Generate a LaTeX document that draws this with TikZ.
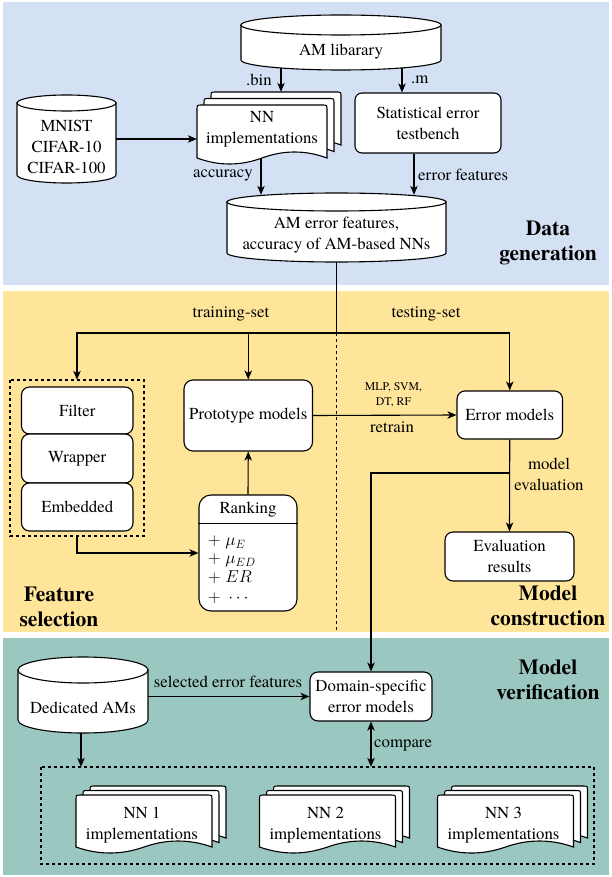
\documentclass[tikz,border=0pt]{standalone}
\usepackage{fontspec}
\IfFontExistsTF{texgyretermes-regular.otf}{%
 \setmainfont{texgyretermes}[Extension=.otf, UprightFont=*-regular, BoldFont=*-bold, ItalicFont=*-italic, BoldItalicFont=*-bolditalic]}{%
 \setmainfont{Liberation Serif}}
\usetikzlibrary{arrows.meta,calc}
\definecolor{bgblue}{HTML}{D4E1F5}
\definecolor{bgyellow}{HTML}{FFE599}
\definecolor{bgteal}{HTML}{9AC7BF}
\newcommand\bodyfont{\fontsize{16.8}{21}\selectfont}
\newcommand\smallfont{\fontsize{11.8}{15}\selectfont}
\newcommand\titlefont{\fontsize{21.5}{25}\selectfont\bfseries}
\tikzset{
 shapeline/.style={draw=black, fill=white, line width=1.1pt},
 mybox/.style={shapeline, rounded corners=7pt, align=center, font=\bodyfont, inner sep=0pt},
 txt/.style={align=center, font=\bodyfont, inner sep=1pt},
 lbl/.style={font=\bodyfont, inner sep=1pt},
 rlbl/.style={font=\bodyfont, inner sep=0pt},
 slbl/.style={font=\smallfont, align=center, inner sep=1pt},
 ttl/.style={font=\titlefont, align=center, inner sep=0pt},
 conn/.style={line width=1.1pt},
 arr/.style={conn, -{Stealth[length=9pt,width=7.5pt,inset=2.5pt]}},
 darr/.style={conn, {Stealth[length=9pt,width=7.5pt,inset=2.5pt]}-{Stealth[length=9pt,width=7.5pt,inset=2.5pt]}},
 dashedbox/.style={draw=black, line width=1.1pt, dash pattern=on 3pt off 3pt},
 dashedline/.style={line width=1.1pt, dash pattern=on 3pt off 3pt},
 ghost/.style={draw=none, inner sep=0pt},
}
% cylinder: x0 y0 x1 y1 ry
\newcommand\mycyl[5]{%
 \filldraw[shapeline] ({#1},{#2+#5}) -- ({#1},{#4-#5})
   .. controls ({#1},{#4-#5+0.552*#5}) and ({(#1+#3)/2-0.552*(#3-#1)/2},{#4}) .. ({(#1+#3)/2},{#4})
   .. controls ({(#1+#3)/2+0.552*(#3-#1)/2},{#4}) and ({#3},{#4-#5+0.552*#5}) .. ({#3},{#4-#5})
   -- ({#3},{#2+#5}) -- cycle;
 \filldraw[shapeline] ({(#1+#3)/2},{#2+#5}) ellipse [x radius={(#3-#1)/2}, y radius={#5}];
}
% one document page: x y w e(end height of sides)
\newcommand\mydocone[4]{%
 \filldraw[shapeline] ({#1},{#4}) -- ({#1},{#2+5}) .. controls ({#1},{#2}) .. ({#1+5},{#2})
  -- ({#1+#3-5},{#2}) .. controls ({#1+#3},{#2}) .. ({#1+#3},{#2+5}) -- ({#1+#3},{#4})
  .. controls ({#1+5*#3/6},{#4-8}) and ({#1+4*#3/6},{#4-8}) .. ({#1+#3/2},{#4})
  .. controls ({#1+2*#3/6},{#4+8}) and ({#1+#3/6},{#4+8}) .. ({#1},{#4}) -- cycle;}
% stack: x y w e dx dy
\newcommand\mydocstack[6]{%
 \mydocone{#1+2*#5}{#2-2*#6}{#3}{#4-2*#6}
 \mydocone{#1+#5}{#2-#6}{#3}{#4-#6}
 \mydocone{#1}{#2}{#3}{#4}}
\begin{document}
\begin{tikzpicture}[x=1pt,y=-1pt]
\useasboundingbox (0,0) rectangle (612,877);
\fill[white] (0,0) rectangle (612,877);
% bands
\fill[bgblue] (3,2) rectangle (609,285);
\fill[bgyellow] (3,291) rectangle (609,632);
\fill[bgteal] (3,638) rectangle (609,875);

% ---------------- Data generation ----------------
\mycyl{241}{15}{441}{70}{10}
\node[ghost, minimum width=200pt, minimum height=55pt] (amlib) at (341,42.5) {};
\node[txt] (amlibt) at (341,52) {AM libarary};

\mycyl{17}{95}{116}{183}{8}
\node[ghost, minimum width=99pt, minimum height=88pt] (mnist) at (66.5,139) {};
\node[txt] (mnistt) at (66.5,147) {MNIST\\CIFAR-10\\CIFAR-100};

\mydocstack{197}{105}{130}{158}{7}{6.5}
\node[ghost, minimum width=144pt, minimum height=72pt] (nn) at (269,128) {};
\node[txt] (nnt) at (262,129.5) {NN\\implementations};
\coordinate (nnbot) at (261,158);

\node[mybox, minimum width=146pt, minimum height=60pt] (stat) at (428,123) {Statistical error\\testbench};

\mycyl{227}{193}{446}{262}{9}
\node[ghost, minimum width=219pt, minimum height=69pt] (amerr) at (336.5,227.5) {};
\node[txt] (amerrt) at (336.5,235) {AM error features,\\accuracy of AM-based NNs};

\coordinate (binx) at (281,0);
\coordinate (mx) at (402,0);
\coordinate (efx) at (414,0);
\draw[arr] ($(amlib.south -| binx)+(0,-2)$) -- (nn.north -| binx);
\node[lbl, anchor=east] (lbin) at (273,80) {.bin};
\draw[arr] ($(amlib.south -| mx)+(0,-2)$) -- (stat.north -| mx);
\node[lbl, anchor=west] (lm) at (410,80) {.m};
\draw[arr] (mnist.east) -- (mnist.east -| nn.west);
\draw[arr] (nnbot) -- ($(amerr.north -| nnbot)+(0,2)$);
\node[lbl, anchor=east] (lacc) at (254,175) {accuracy};
\draw[arr] (stat.south -| efx) -- ($(amerr.north -| efx)+(0,2)$);
\node[lbl, anchor=west] (lef) at (417,175) {error features};
\node[ttl] (tdata) at (548,242.5) {Data\\generation};

% ---------------- Feature selection / model construction ----------------
\coordinate (split) at (336.5,333);
\coordinate (dashend) at (336.5,632);
\draw[dashedline] (split) -- (dashend);

\draw[dashedbox] (10,380) rectangle (144,536);
\node[ghost, minimum width=134pt, minimum height=156pt] (fsbox) at (77,458) {};
\node[mybox, rounded corners=8pt, minimum width=111.5pt, minimum height=47pt] (filter) at (77.25,410.5) {Filter};
\node[mybox, rounded corners=8pt, minimum width=111.5pt, minimum height=49pt] (wrapper) at (77.25,458.5) {Wrapper};
\node[mybox, rounded corners=8pt, minimum width=111.5pt, minimum height=48pt] (embedded) at (77.25,507) {Embedded};

\node[mybox, rounded corners=9pt, minimum width=128.5pt, minimum height=71pt] (proto) at (248.25,415.5) {Prototype models};

\node[mybox, rounded corners=12pt, minimum width=98pt, minimum height=116pt] (rank) at (248,553) {};
\coordinate (rankhdr) at (0,523.5);
\draw[conn] (rank.west |- rankhdr) -- (rank.east |- rankhdr);
\node[txt] (rankt) at (248,510) {Ranking};
\node[rlbl, anchor=west] (r1) at (208,542.5) {$+\;\mu_E$};
\node[rlbl, anchor=west] (r2) at (208,560.5) {$+\;\mu_{ED}$};
\node[rlbl, anchor=west] (r3) at (208,577) {$+\;ER$};
\node[rlbl, anchor=west] (r4) at (208,598.5) {$+\;\cdots$};

\node[mybox, rounded corners=8pt, minimum width=105.5pt, minimum height=48pt] (errm) at (509.75,415) {Error models};
\node[mybox, rounded corners=8pt, minimum width=129pt, minimum height=49pt] (evalr) at (509.5,556.5) {Evaluation\\results};

\draw[conn] (amerr.south) -- (split);
\draw[arr] (split) -| (fsbox.north);
\draw[arr] (split) -| (proto.north);
\draw[arr] (split) -| (errm.north);
\node[lbl] (ltrain) at (231,314) {training-set};
\node[lbl] (ltest) at (426,314) {testing-set};

\draw[arr] (rank.north) -- (proto.south);
\draw[arr] (fsbox.south) |- (rank.west);
\draw[arr] (proto.east) -- (errm.west);
\node[slbl] (lmlp) at (393.5,394.5) {MLP, SVM,\\DT, RF};
\node[lbl] (lretrain) at (392,427) {retrain};
\draw[arr] (errm.south) -- (evalr.north);
\coordinate (br) at (509.75,473);
\node[txt] (lmodel) at (549,474) {model\\evaluation};
\node[ttl] (tfeat) at (59,606.5) {Feature\\selection};
\node[ttl] (tcons) at (548,605.5) {Model\\construction};

% ---------------- Model verification ----------------
\mycyl{18}{657}{148}{733}{13}
\node[ghost, minimum width=130pt, minimum height=76pt] (ded) at (83,695) {};
\node[txt] (dedt) at (83,708) {Dedicated AMs};

\node[mybox, rounded corners=8pt, minimum width=122pt, minimum height=49pt] (dom) at (371,696.5) {Domain-specific\\error models};

\draw[dashedbox] (41,767) rectangle (594,864);
\node[ghost, minimum width=553pt, minimum height=97pt] (nnbox) at (317.5,815.5) {};

\mydocstack{76}{795}{136}{847}{7}{4.5}
\node[txt] (nn1) at (142,825) {NN 1\\implementations};
\mydocstack{259.5}{795}{136}{847}{7}{4.5}
\node[txt] (nn2) at (325.5,825) {NN 2\\implementations};
\mydocstack{437.5}{795}{136}{847}{7}{4.5}
\node[txt] (nn3) at (503.5,825) {NN 3\\implementations};

\draw[arr] (br) -| (dom.north);
\draw[arr] (ded.east |- dom.west) -- (dom.west);
\node[lbl] (lsel) at (228,682) {selected error features};
\coordinate (dedx) at (81,0);
\draw[arr] (ded.south -| dedx) -- (nnbox.north -| dedx);
\draw[darr] (dom.south) -- (dom.south |- nnbox.north);
\node[lbl, anchor=west] (lcmp) at (373,745) {compare};
\node[ttl] (tver) at (548,679.5) {Model\\verification};
\end{tikzpicture}
\end{document}
